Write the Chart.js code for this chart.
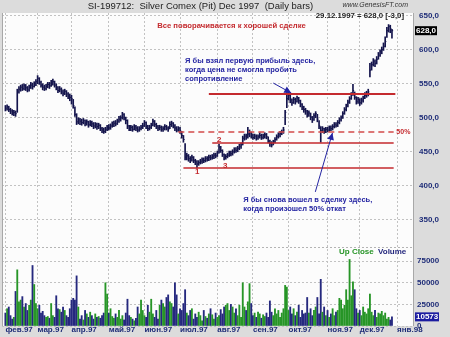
<!DOCTYPE html>
<html>
<head>
<meta charset="utf-8">
<script src="https://cdn.jsdelivr.net/npm/chart.js@4.4.1/dist/chart.umd.min.js"></script>
<style>
  html, body { margin: 0; padding: 0; background: #dcdcdc; }
  #wrap { width: 450px; height: 337px; }
</style>
</head>
<body>
<div id="wrap"><canvas id="chart" width="450" height="337"></canvas></div>
<script>
// daily bars, SI Dec 1997, from early Feb to 29.12.1997 (index = trading day)
const closes = [
  514, 516, 512, 510, 507, 508, 506,
  538, 542, 545, 543, 547, 544, 541, 545, 548, 546, 550, 553, 558,
  552, 548, 545, 543, 546, 549, 547, 551, 553,
  548, 545, 540, 542, 538, 536, 539, 535, 532, 530,
  528, 518, 505, 494,
  497, 495, 493, 496, 492, 494, 490, 493, 491, 488, 490, 487, 489,
  484, 482, 480, 483, 486,
  485, 488, 490, 492, 491, 495, 498, 500,
  505,
  500, 496, 488,
  484, 486, 483, 487, 485, 482, 484, 486, 488,
  493,
  487, 484, 486, 489,
  495,
  490, 487, 485, 486, 483, 484, 487, 485, 483,
  490, 492, 488,
  485, 482, 484, 481,
  474, 468,
  442,
  444, 440, 438, 442, 437, 435, 432,
  434, 436, 438, 437, 440, 439, 442, 441, 443, 445, 444, 448,
  457,
  452, 446, 441, 443,
  445, 448, 447, 450, 453, 452, 455, 458, 460,
  470, 473, 472, 476, 478, 474, 471, 473, 470, 472, 474, 471, 473, 475, 472,
  466, 462, 460, 464,
  468, 472, 475, 477, 479, 482,
  508,
  528, 533, 526,
  522, 527, 524, 529, 525, 520,
  516, 512, 510, 505, 507, 501, 497, 503,
  506, 498,
  488, 481, 484, 480, 483, 482, 485, 484,
  487, 490, 489, 493, 497, 500,
  506, 512, 517, 523, 528, 534,
  540,
  530, 524, 527, 522, 526, 529,
  533, 536, 538,
  570, 578, 583, 580, 586,
  592, 597, 600,
  605, 612,
  628, 634,
  631, 628
];
const highs = [
  518, 519, 517, 514, 512, 511, 510,
  542, 546, 548, 549, 550, 549, 546, 548, 552, 551, 553, 556, 562,
  559, 554, 550, 548, 549, 552, 552, 555, 557,
  554, 550, 546, 546, 544, 541, 542, 540, 537, 535,
  533, 527, 516, 506,
  500, 499, 498, 499, 497, 497, 495, 496, 495, 493, 493, 492, 492,
  490, 486, 485, 486, 489,
  490, 491, 494, 495, 496, 498, 502, 503,
  508,
  506, 501, 497,
  489, 489, 488, 490, 489, 487, 487, 489, 492,
  496,
  494, 489, 489, 492,
  498,
  496, 492, 489, 489, 488, 487, 490, 489, 487,
  494, 495, 493,
  490, 487, 487, 486,
  480, 474,
  462,
  448, 446, 443, 445, 443, 439, 437,
  437, 439, 441, 441, 443, 443, 445, 445, 446, 448, 448, 451,
  461,
  458, 453, 447, 446,
  448, 451, 451, 453, 456, 456, 458, 461, 463,
  473, 476, 476, 486, 482, 479, 476, 476, 475, 475, 478, 476, 476, 478, 477,
  472, 467, 465, 467,
  471, 475, 478, 480, 482, 486,
  511,
  537, 538, 533,
  528, 530, 529, 532, 530, 526,
  521, 517, 514, 511, 510, 507, 502, 506,
  509, 505,
  496, 487, 487, 485, 486, 486, 488, 488,
  490, 493, 493, 496, 500, 503,
  509, 515, 520, 526, 531, 537,
  549,
  538, 531, 530, 528, 529, 532,
  537, 539, 542,
  580, 582, 587, 585, 590,
  596, 600, 604,
  610, 619,
  633, 637,
  636, 630
];
const lows = [
  510, 511, 509, 506, 504, 503, 502,
  508, 536, 539, 540, 541, 540, 538, 539, 543, 542, 545, 547, 550,
  549, 545, 541, 540, 541, 544, 543, 546, 548,
  545, 541, 537, 538, 535, 532, 534, 531, 528, 525,
  520, 514, 502, 490,
  491, 490, 489, 491, 488, 489, 486, 488, 487, 484, 485, 483, 484,
  481, 478, 477, 478, 481,
  482, 483, 486, 487, 488, 490, 493, 495,
  498,
  497, 491, 484,
  481, 481, 480, 482, 481, 479, 480, 482, 484,
  487,
  484, 481, 482, 484,
  488,
  487, 484, 481, 482, 480, 480, 482, 482, 480,
  484, 487, 485,
  481, 479, 480, 477,
  470, 464,
  438,
  438, 436, 434, 436, 434, 431, 426,
  430, 432, 433, 434, 435, 436, 437, 438, 439, 440, 441, 443,
  448,
  449, 443, 438, 439,
  441, 443, 444, 445, 448, 449, 450, 453, 455,
  460, 467, 468, 470, 472, 470, 468, 469, 467, 468, 470, 468, 469, 470, 469,
  463, 458, 457, 460,
  463, 467, 470, 472, 475, 477,
  490,
  515, 526, 522,
  518, 521, 520, 523, 521, 516,
  512, 508, 505, 501, 502, 497, 493, 496,
  500, 494,
  484, 464, 478, 477, 478, 479, 480, 481,
  482, 485, 486, 487, 491, 495,
  499, 505, 510, 516, 521, 527,
  533,
  527, 520, 521, 518, 520, 523,
  528, 530, 532,
  560, 570, 576, 575, 579,
  586, 590, 594,
  599, 604,
  618, 626,
  625, 617
];
const volumes = [
  15000, 20000, 22000, 12000, 8000, 10000,
  40000, 65000, 28000,
  30000, 34000, 22000, 26000, 18000, 24000, 30000,
  70000, 48000, 26000,
  20000, 24000, 15000, 17000, 12000, 10000, 11000, 9000,
  26000, 12000, 10000,
  35000,
  20000, 19000, 16000, 22000, 18000, 12000, 10000, 20000,
  30000, 32000, 30000, 58000, 22000,
  8000, 12000, 7000, 18000, 14000, 10000, 16000, 12000, 8000, 14000, 10000, 11000, 9000,
  12000, 15000, 50000, 37000,
  15000, 20000, 11000, 9000, 14000, 10000, 18000, 8000, 12000, 7000, 15000,
  31000,
  12000, 10000, 8000, 6000, 9000, 22000, 14000,
  30000,
  18000, 12000, 10000, 24000, 16000,
  31000,
  14000, 10000, 18000, 8000, 24000,
  30000, 26000, 22000, 33000,
  36000, 28000, 26000, 22000,
  50000, 36000, 14000,
  20000, 18000, 26000,
  42000,
  15000, 12000, 18000, 20000, 8000, 14000, 10000, 16000, 12000, 6000, 18000, 11000,
  9000, 14000, 20000, 13000, 8000, 15000, 10000, 12000, 19000, 14000, 22000,
  24000, 26000, 18000, 25000, 22000, 15000, 20000, 12000, 24000, 10000,
  50000, 22000, 18000, 28000, 49000, 26000,
  12000, 15000, 10000, 16000, 14000, 9000, 13000, 11000, 15000, 10000,
  29000,
  16000, 12000, 20000, 14000, 18000, 10000, 15000, 20000,
  47000, 45000,
  18000, 22000, 14000, 20000, 12000, 16000, 24000, 10000, 18000, 14000,
  15000, 33000,
  15000, 20000, 12000, 18000, 22000, 33000, 14000, 54000,
  16000, 22000, 12000, 18000, 10000, 14000, 20000, 12000, 16000, 18000,
  32000, 30000, 20000,
  24000, 42000, 30000, 77000, 35000, 51000, 42000,
  20000, 15000, 18000, 12000, 22000, 16000, 14000, 20000, 37000, 16000, 12000, 18000,
  10000, 15000, 14000, 17000,
  12000, 15000, 8000, 10000, 7000, 10573
];

const monthStarts = [0, 19, 39, 61, 82, 103, 125, 146, 167, 190, 209, 231];
const monthLabels = ["фев.97", "мар.97", "апр.97", "май.97", "июн.97", "июл.97",
                     "авг.97", "сен.97", "окт.97", "ноя.97", "дек.97", "янв.98"];
const priceTicks = [350, 400, 450, 500, 550, 600, 650];
const volumeTicks = [0, 25000, 50000, 75000];

// drawn support / resistance levels: price and day range
const levelPrices = [535, 479, 463, 426];
const levelFrom = [120, 102, 122, 105];
const levelTo = [230, 229, 229, 229];

const FONT = '"Liberation Sans", Arial, sans-serif';
const NAVY = "#14144c";
const UP = "#279527";
const DOWN = "#25287e";
const RED = "#c42a2e";
const BLUE = "#2424a2";
const AXIS = "#1f2d78";

Chart.defaults.font.family = FONT;

function txt(ctx, s, x, y, font, color, align) {
  ctx.font = font;
  ctx.fillStyle = color;
  ctx.textAlign = align || "left";
  ctx.textBaseline = "middle";
  ctx.fillText(s, x, y);
}

function arrow(ctx, x1, y1, x2, y2) {
  ctx.strokeStyle = BLUE;
  ctx.fillStyle = BLUE;
  ctx.lineWidth = 1;
  ctx.beginPath();
  ctx.moveTo(x1, y1);
  ctx.lineTo(x2, y2);
  ctx.stroke();
  const a = Math.atan2(y2 - y1, x2 - x1);
  const L = 7, W = 3.5;
  ctx.beginPath();
  ctx.moveTo(x2, y2);
  ctx.lineTo(x2 - L * Math.cos(a) + W * Math.sin(a), y2 - L * Math.sin(a) - W * Math.cos(a));
  ctx.lineTo(x2 - L * Math.cos(a) - W * Math.sin(a), y2 - L * Math.sin(a) + W * Math.cos(a));
  ctx.closePath();
  ctx.fill();
}

const decor = {
  id: "decor",
  beforeDraw(chart) {
    const { ctx, chartArea: a } = chart;
    ctx.save();
    ctx.fillStyle = "#dcdcdc";
    ctx.fillRect(0, 0, chart.width, chart.height);
    ctx.fillStyle = "#fcfcfc";
    ctx.fillRect(a.left, a.top, a.right - a.left, a.bottom - a.top);
    ctx.restore();
  },
  afterDatasetsDraw(chart) {
    const { ctx, chartArea: a } = chart;
    const xs = chart.scales.x, ys = chart.scales.y, yv = chart.scales.yv;
    const X = (v) => xs.getPixelForValue(v);
    const Y = (v) => ys.getPixelForValue(v);
    ctx.save();

    // panel separator + frame
    ctx.strokeStyle = "#b4b4b4";
    ctx.lineWidth = 1;
    ctx.setLineDash([2, 2]);
    ctx.beginPath();
    ctx.moveTo(a.left, Math.round(yv.top) + 0.5);
    ctx.lineTo(a.right, Math.round(yv.top) + 0.5);
    ctx.stroke();
    ctx.setLineDash([]);
    ctx.strokeStyle = "#a8a8a8";
    ctx.beginPath();
    ctx.moveTo(a.left + 0.5, a.top);
    ctx.lineTo(a.left + 0.5, a.bottom);
    ctx.moveTo(a.right - 0.5, a.top);
    ctx.lineTo(a.right - 0.5, a.bottom);
    ctx.stroke();

    // levels
    levelPrices.forEach((p, i) => {
      ctx.strokeStyle = i === 1 ? "#d24a4a" : RED;
      ctx.lineWidth = i === 0 ? 2 : 1.5;
      ctx.setLineDash(i === 1 ? [6, 4] : []);
      ctx.beginPath();
      ctx.moveTo(X(levelFrom[i]), Y(p));
      ctx.lineTo(X(levelTo[i]), Y(p));
      ctx.stroke();
    });
    ctx.setLineDash([]);

    const small = "bold 8px " + FONT;
    const note = "bold 7.5px " + FONT;
    txt(ctx, "50%", X(230.6), Y(479), "bold 7px " + FONT, RED);
    txt(ctx, "1", X(113.1), Y(420.5), small, RED, "center");
    txt(ctx, "2", X(126.1), Y(467.4), small, RED, "center");
    txt(ctx, "3", X(129.7), Y(429), small, RED, "center");

    // comments
    txt(ctx, "Все поворачивается к хорошей сделке", X(89.5), Y(634.6), "bold 7.7px " + FONT, RED);
    txt(ctx, "Я бы взял первую прибыль здесь,", X(106), Y(583.3), note, BLUE);
    txt(ctx, "когда цена не смогла пробить", X(106), Y(570.1), note, BLUE);
    txt(ctx, "сопротивление", X(106), Y(556.9), note, BLUE);
    txt(ctx, "Я бы снова вошел в сделку здесь,", X(140.3), Y(379.5), note, BLUE);
    txt(ctx, "когда произошел 50% откат", X(140.3), Y(366.3), note, BLUE);
    arrow(ctx, X(158), Y(551), X(168.6), Y(536.4));
    arrow(ctx, X(182.8), Y(391), X(192.9), Y(477.7));

    // header
    txt(ctx, "SI-199712:  Silver Comex (Pit) Dec 1997  (Daily bars)", 200.5, 6.5, "9.5px " + FONT, "#222222", "center");
    txt(ctx, "www.GenesisFT.com", 408, 5, "italic 7px " + FONT, "#333333", "right");
    const last = closes.length - 1;
    const chg = closes[last] - closes[last - 1];
    txt(ctx, "29.12.1997 = " + closes[last].toFixed(1).replace(".", ",") + " [" +
      chg.toFixed(1).replace(".", ",") + "]", 404, 15.5, "bold 7.8px " + FONT, "#222222", "right");

    // volume legend
    txt(ctx, "Up Close", 339, 252, small, UP);
    txt(ctx, "Volume", 378, 252, small, DOWN);

    // last value tags
    const py = Y(closes[last]);
    ctx.fillStyle = "#000000";
    ctx.fillRect(a.right + 1, py - 4.5, 22, 9);
    txt(ctx, closes[last].toFixed(1).replace(".", ","), a.right + 2, py, small, "#ffffff");
    const vy = yv.getPixelForValue(volumes[last]);
    ctx.fillStyle = "#1c1ca0";
    ctx.fillRect(a.right + 1, vy - 4.5, 24, 9);
    txt(ctx, String(volumes[last]), a.right + 2, vy, small, "#ffffff");
    ctx.restore();
  }
};

const barData = closes.map((c, i) => ({ x: i, y: [lows[i], highs[i]] }));
const closeData = closes.map((c, i) => ({ x: i, y: c }));
const volData = volumes.map((v, i) => ({ x: i, y: v }));
const volColors = closes.map((c, i) => (i > 0 && c > closes[i - 1] ? UP : DOWN));

const tickFont = { size: 8, weight: "bold", lineHeight: 1 };

new Chart(document.getElementById("chart").getContext("2d"), {
  data: {
    datasets: [
      {
        type: "bar",
        data: barData,
        yAxisID: "y",
        backgroundColor: NAVY,
        barThickness: 1,
        grouped: false
      },
      {
        type: "line",
        data: closeData,
        yAxisID: "y",
        showLine: false,
        pointStyle: "dash",
        pointRadius: 1.2,
        borderColor: NAVY,
        borderWidth: 1
      },
      {
        type: "bar",
        data: volData,
        yAxisID: "yv",
        backgroundColor: volColors,
        barThickness: 1.2,
        grouped: false
      }
    ]
  },
  options: {
    responsive: false,
    animation: false,
    events: [],
    layout: { padding: { top: 13, left: 2, right: 0, bottom: 0 }, autoPadding: false },
    plugins: { legend: { display: false }, tooltip: { enabled: false } },
    scales: {
      x: {
        type: "linear",
        min: -2,
        max: 241,
        offset: false,
        grid: { color: "#c2c2c2", drawTicks: false, offset: false },
        border: { display: false, dash: [2, 2] },
        ticks: {
          align: "start",
          padding: 0,
          maxRotation: 0,
          autoSkip: false,
          color: AXIS,
          font: tickFont,
          callback: (v, i) => monthLabels[i]
        },
        afterBuildTicks: (s) => { s.ticks = monthStarts.map((v) => ({ value: v })); },
        afterFit: (s) => { s.height = 11; }
      },
      y: {
        position: "right",
        stack: "panels",
        stackWeight: 234,
        min: 310,
        max: 654,
        grid: { color: "#c2c2c2", drawTicks: false },
        border: { display: false, dash: [2, 2] },
        ticks: {
          padding: 5,
          color: AXIS,
          font: tickFont,
          callback: (v) => v.toFixed(1).replace(".", ",")
        },
        afterBuildTicks: (s) => { s.ticks = priceTicks.map((v) => ({ value: v })); },
        afterFit: (s) => { s.width = 36; }
      },
      yv: {
        position: "right",
        stack: "panels",
        stackWeight: 79,
        min: 0,
        max: 91400,
        grid: { color: "#c2c2c2", drawTicks: false },
        border: { display: false, dash: [2, 2] },
        ticks: {
          padding: 3,
          color: AXIS,
          font: tickFont,
          callback: (v) => String(v)
        },
        afterBuildTicks: (s) => { s.ticks = volumeTicks.map((v) => ({ value: v })); },
        afterFit: (s) => { s.width = 36; }
      }
    }
  },
  plugins: [decor]
});
</script>
</body>
</html>
